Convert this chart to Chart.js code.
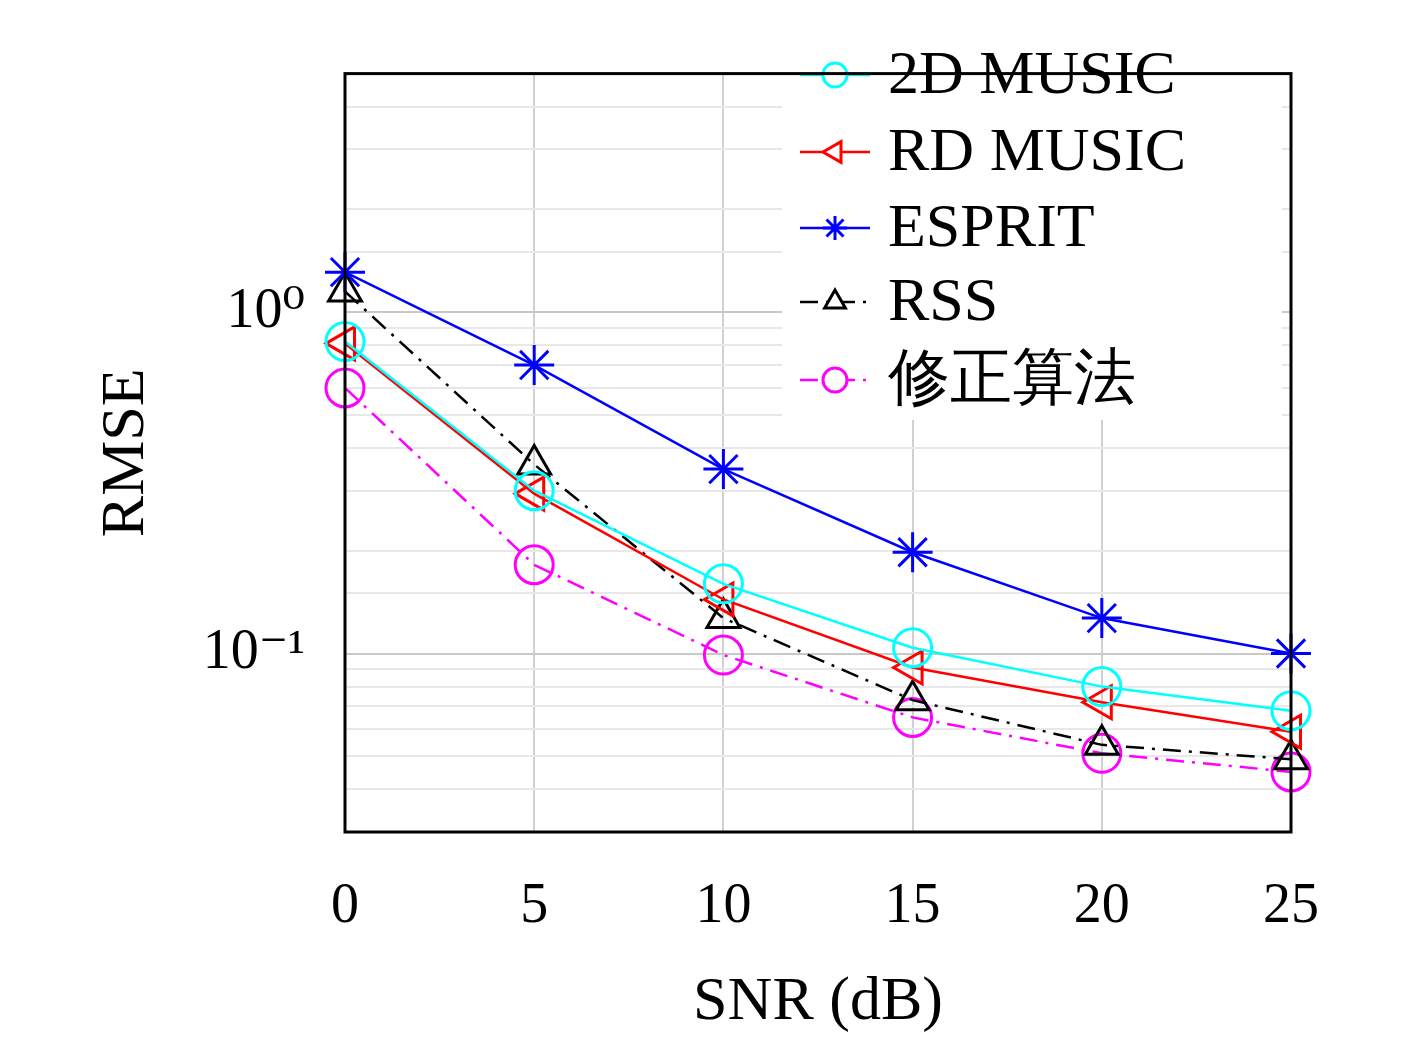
<!DOCTYPE html>
<html><head><meta charset="utf-8">
<script src="https://cdn.jsdelivr.net/npm/chart.js@4"></script>
<style>html,body{margin:0;padding:0;background:#fff}#w{width:1417px;height:1044px}</style>
</head><body><div id="w"><canvas id="c"></canvas></div>
<script>
const snr=[0,5,10,15,20,25];
const music2d=[0.82,0.30,0.16,0.104,0.080,0.068];
const rdmusic=[0.81,0.294,0.144,0.091,0.072,0.059];
const esprit=[1.31,0.70,0.347,0.198,0.127,0.100];
const rss=[1.15,0.358,0.127,0.073,0.054,0.049];
const revised=[0.60,0.182,0.099,0.065,0.051,0.045];
const names=['2D MUSIC','RD MUSIC','ESPRIT','RSS','修正算法'];
const F='"Liberation Serif","DejaVu Serif",serif';
const mk=(label,data,color,style,rot,dash)=>({label,data:snr.map((x,i)=>({x,y:data[i]})),borderColor:color,backgroundColor:'rgba(0,0,0,0)',pointBorderColor:color,pointStyle:style,pointRotation:rot,pointRadius:style==='star'?20:19,pointBorderWidth:3,borderWidth:2.5,borderDash:dash,tension:0,clip:false});
const ds=[mk(names[0],music2d,'#00ffff','circle',0,[]),mk(names[1],rdmusic,'#ff0000','triangle',-90,[]),mk(names[2],esprit,'#0000ff','star',0,[]),mk(names[3],rss,'#000000','triangle',0,[18,8,3,8]),mk(names[4],revised,'#ff00ff','circle',0,[18,8,3,8])];
const legendBg={id:'legendBg',beforeDatasetsDraw(ch){const c=ch.ctx;c.save();c.fillStyle='#fff';c.fillRect(782,30,500,390);c.restore();}};
const frame={id:'frame',afterDatasetsDraw(ch){const a=ch.chartArea,c=ch.ctx;c.save();
 const x0=800,x1=870,tx=888,ys=[75,152,228,302,380];
 ch.data.datasets.forEach((d,i)=>{const y=ys[i];c.strokeStyle=d.borderColor;c.lineWidth=2.5;c.setLineDash(d.borderDash);c.beginPath();c.moveTo(x0,y);c.lineTo(x1,y);c.stroke();c.setLineDash([]);
  c.fillStyle='#fff';c.strokeStyle=d.borderColor;c.lineWidth=3;
  Chart.helpers.drawPoint(c,{pointStyle:d.pointStyle,rotation:d.pointRotation,radius:12,borderWidth:3},(x0+x1)/2,y);
  c.fillStyle='#000';c.font='62px '+F;c.textBaseline='middle';c.fillText(d.label,tx,y+2);});
 c.strokeStyle='#000';c.lineWidth=3;c.strokeRect(a.left,a.top,a.right-a.left,a.bottom-a.top);c.restore();}};
new Chart(document.getElementById('c'),{type:'line',data:{datasets:ds},plugins:[legendBg,frame],
options:{responsive:true,maintainAspectRatio:false,animation:false,layout:{padding:{top:-56,right:126,left:0,bottom:0}},
plugins:{legend:{display:false},tooltip:{enabled:false}},
scales:{x:{type:'linear',min:0,max:25,afterFit(s){s.height=212},ticks:{stepSize:5,color:'#000',font:{family:F,size:56},padding:42},grid:{color:'#d0d0d0',lineWidth:2,drawTicks:false},border:{display:false},title:{display:true,text:'SNR (dB)',color:'#000',font:{family:F,size:62},padding:{top:0}}},
y:{type:'logarithmic',min:0.03,max:5,afterFit(s){s.width=345},ticks:{color:'#000',font:{family:F,size:56},padding:40,autoSkip:false,callback:v=>{const l=Math.log10(v);if(Math.abs(l-0)<1e-9)return '10⁰';if(Math.abs(l+1)<1e-9)return '10⁻¹';return '';}},
grid:{drawTicks:false,lineWidth:2,color:c=>{const v=c.tick&&c.tick.value;if(!v)return '#e4e4e4';const l=Math.log10(v);return Math.abs(l-Math.round(l))<1e-9?'#c8c8c8':'#e8e8e8';}},border:{display:false},
title:{display:true,text:'RMSE',color:'#000',font:{family:F,size:62},padding:{top:90,bottom:20}}}}}});
</script></body></html>
